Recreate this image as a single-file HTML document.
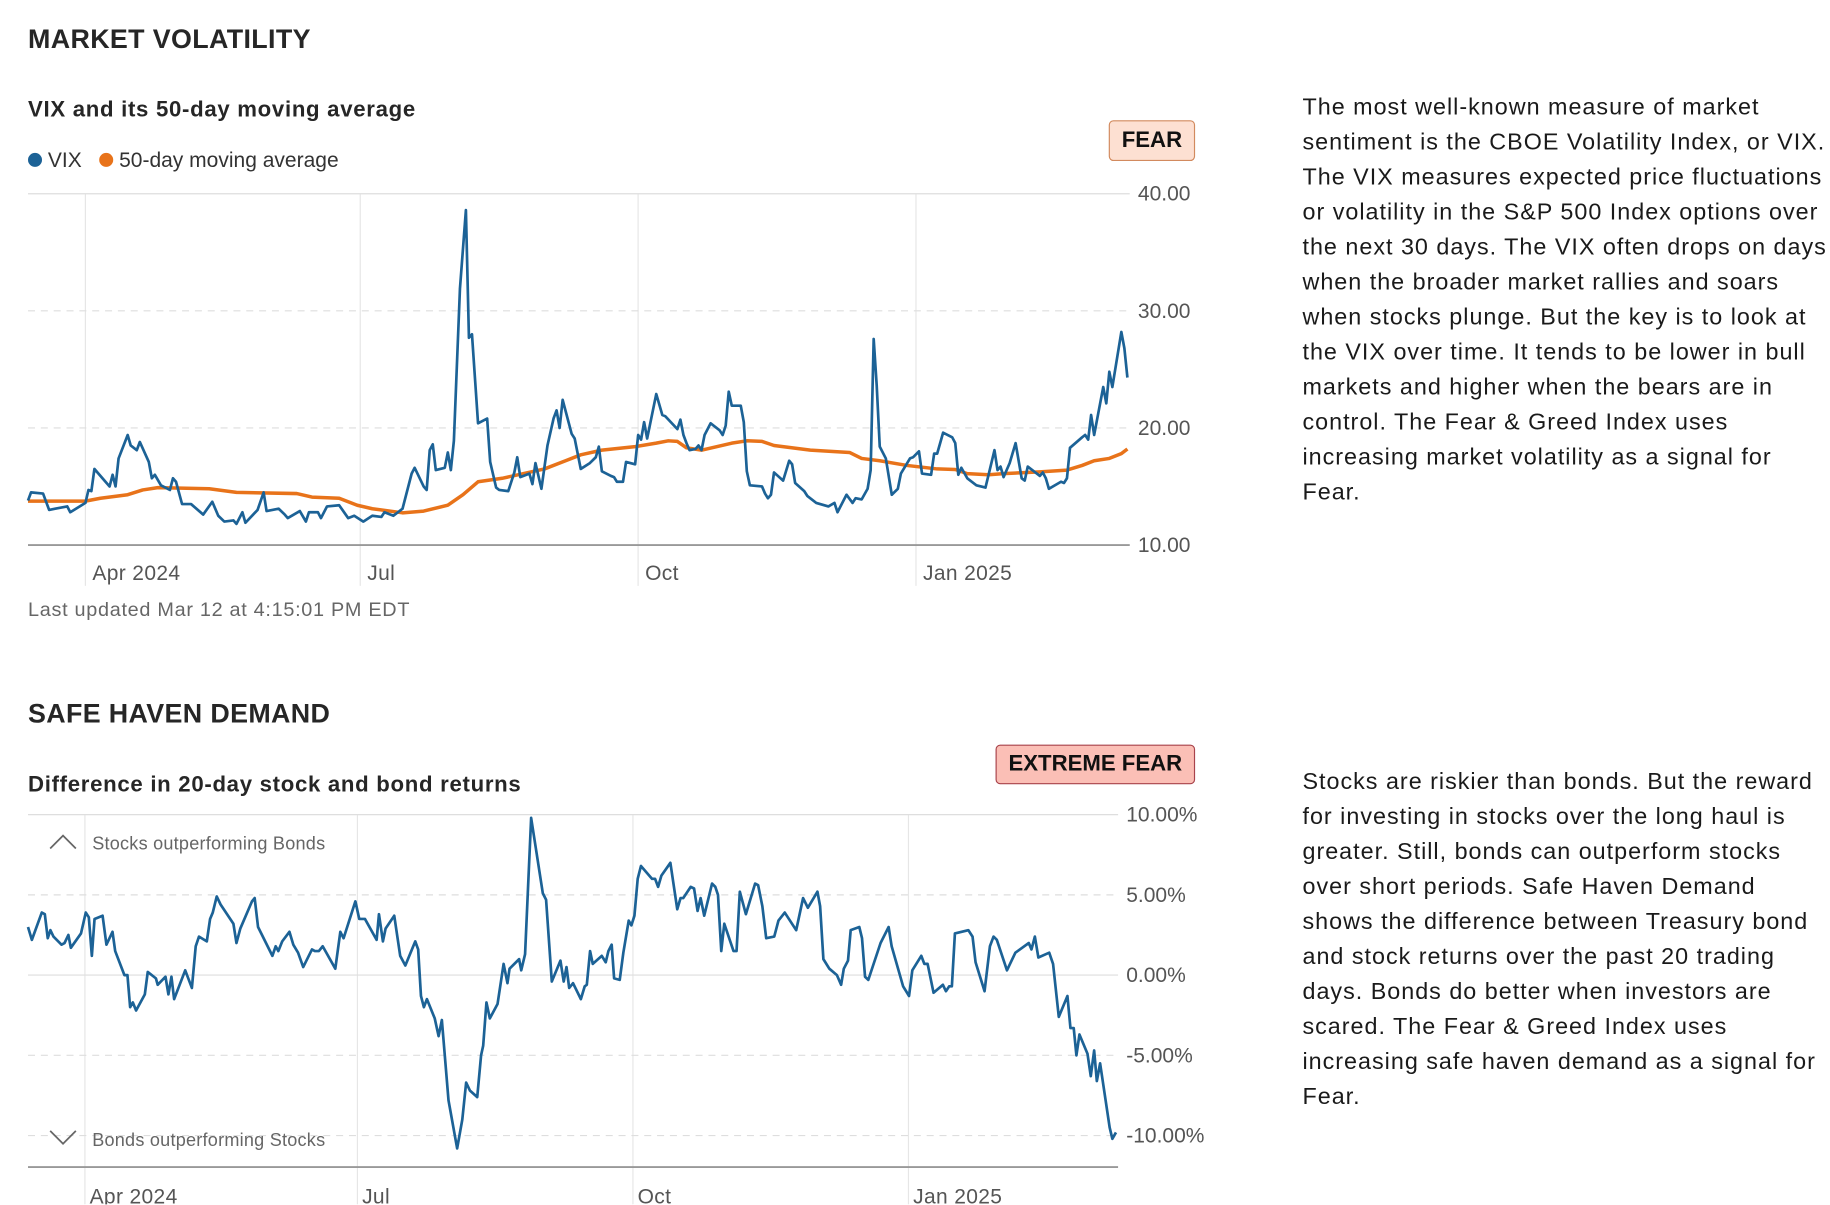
<!DOCTYPE html>
<html><head><meta charset="utf-8">
<style>
html,body{margin:0;padding:0;background:#fff;}
body{width:1830px;height:1205px;overflow:hidden;position:relative;}
#wrap{position:absolute;left:0;top:0;width:1568px;height:1032px;transform:scale(1.16709);transform-origin:0 0;font-family:"Liberation Sans",Arial,sans-serif;color:#222;}
.abs{position:absolute;white-space:nowrap;}
h2{margin:0;font-size:23px;font-weight:bold;color:#262626;letter-spacing:0.3px;}
.sub{font-size:19px;font-weight:bold;color:#262626;letter-spacing:0.6px;}
.badge{position:absolute;font-weight:bold;font-size:19px;color:#111;border-radius:4px;text-align:center;box-sizing:border-box;}
.desc{position:absolute;left:1116px;font-size:20px;line-height:30px;color:#1a1a1a;white-space:nowrap;letter-spacing:0.85px;}
svg text{font-family:"Liberation Sans",Arial,sans-serif;}
</style></head>
<body>
<div id="wrap">
  <h2 class="abs" style="left:24px;top:20px;">MARKET VOLATILITY</h2>
  <div class="abs sub" style="left:24px;top:84px;">VIX and its 50-day moving average</div>
  <div class="abs" style="left:24px;top:127px;font-size:18px;color:#333;">
    <span><span style="display:inline-block;width:12px;height:12px;border-radius:6px;background:#1c6296;vertical-align:0px;"></span> VIX</span>
    <span style="margin-left:10px;"><span style="display:inline-block;width:12px;height:12px;border-radius:6px;background:#e8731a;vertical-align:0px;"></span> 50-day moving average</span>
  </div>
  <div class="badge" style="left:950px;top:103px;width:74px;height:35px;line-height:33px;background:#fde0d2;border:1px solid #d28a5e;">FEAR</div>
  <svg id="c1" class="abs" style="left:0;top:150px;" width="1060" height="360"></svg>
  <div class="abs" style="left:24px;top:513px;font-size:17px;color:#666;letter-spacing:0.6px;">Last updated Mar 12 at 4:15:01 PM EDT</div>

  <div class="desc" style="top:77px;">The most well-known measure of market<br>sentiment is the CBOE Volatility Index, or VIX.<br>The VIX measures expected price fluctuations<br>or volatility in the S&amp;P 500 Index options over<br>the next 30 days. The VIX often drops on days<br>when the broader market rallies and soars<br>when stocks plunge. But the key is to look at<br>the VIX over time. It tends to be lower in bull<br>markets and higher when the bears are in<br>control. The Fear &amp; Greed Index uses<br>increasing market volatility as a signal for<br>Fear.</div>

  <h2 class="abs" style="left:24px;top:598px;">SAFE HAVEN DEMAND</h2>
  <div class="badge" style="left:853px;top:638px;width:171px;height:34px;line-height:32px;background:#fbbfb6;border:1px solid #a8434b;">EXTREME FEAR</div>
  <div class="abs sub" style="left:24px;top:662px;">Difference in 20-day stock and bond returns</div>
  <svg id="c2" class="abs" style="left:0;top:680px;" width="1060" height="352"></svg>

  <div class="desc" style="top:655px;">Stocks are riskier than bonds. But the reward<br>for investing in stocks over the long haul is<br>greater. Still, bonds can outperform stocks<br>over short periods. Safe Haven Demand<br>shows the difference between Treasury bond<br>and stock returns over the past 20 trading<br>days. Bonds do better when investors are<br>scared. The Fear &amp; Greed Index uses<br>increasing safe haven demand as a signal for<br>Fear.</div>
</div>
<script>
// ---- data (day offsets from 2024-03-13) ----
const monthLabels = ["Apr 2024","Jul","Oct","Jan 2025"];
const monthDays = [19,110,202,294];
const vixTicks = [10,20,30,40];
const vixTickLabels = ["10.00","20.00","30.00","40.00"];
const vixDays = [0,1,5,7,9,13,14,19,20,21,22,27,28,29,30,33,34,36,37,40,41,42,44,47,48,49,51,54,58,61,63,65,68,69,71,72,76,78,79,83,85,86,90,92,93,96,97,99,103,106,108,111,114,117,118,121,124,127,128,131,132,133,134,135,138,139,140,141,143,145,146,147,149,152,153,155,156,159,161,162,163,166,167,168,170,172,174,175,176,177,180,181,183,186,188,189,190,193,194,195,197,198,201,202,203,204,205,208,210,211,215,216,217,218,219,221,222,223,224,226,229,230,231,232,233,236,237,238,239,243,244,245,246,247,250,252,253,254,257,258,261,265,267,268,271,273,274,276,278,279,280,281,282,284,286,288,289,292,293,295,296,299,300,301,303,306,307,308,309,311,314,317,320,321,322,323,325,327,329,330,331,335,336,337,338,342,343,344,345,349,350,351,352,353,356,357,358,359,362,363,364];
const vixValues = [13.8,14.5,14.4,13.0,13.1,13.3,12.8,13.6,14.7,14.6,16.5,15.0,16.0,15.0,17.4,19.4,18.5,18.1,18.8,17.1,15.7,16.0,15.1,14.7,15.7,15.4,13.5,13.5,12.6,13.7,12.5,12.0,12.1,11.8,12.8,11.9,13.0,14.5,12.9,13.1,12.6,12.3,12.9,12.0,12.8,12.8,12.3,13.3,13.4,12.3,12.5,12.0,12.5,12.4,12.8,12.5,13.1,16.1,16.6,15.0,14.7,18.1,18.6,16.4,16.6,17.9,16.4,18.9,31.9,38.6,27.7,28.0,20.4,20.8,17.1,14.9,14.7,14.6,16.2,17.5,15.8,16.1,15.2,17.0,14.8,18.5,20.8,21.5,20.0,22.4,19.5,19.1,16.5,17.0,17.5,18.4,16.3,15.9,15.8,15.4,15.4,17.1,16.9,19.4,19.0,20.5,19.1,22.9,21.1,21.0,19.9,20.7,19.4,18.7,18.1,18.2,18.5,18.1,19.4,20.4,19.8,19.4,20.2,23.1,21.9,21.9,20.5,16.3,15.1,15.0,14.4,14.0,14.3,16.2,15.5,17.2,16.9,15.3,14.6,14.2,13.6,13.3,13.6,12.8,14.3,13.6,14.0,13.9,14.8,16.4,27.6,23.6,18.4,17.4,14.3,14.8,16.1,17.4,17.5,18.0,16.1,16.0,17.8,17.8,19.6,19.2,18.7,16.0,16.6,15.7,15.1,14.9,18.1,16.4,16.7,15.8,17.0,18.7,15.7,15.5,16.7,15.9,16.2,15.7,14.8,15.4,15.3,15.7,18.3,19.2,19.4,19.0,21.1,19.4,23.5,22.1,24.8,23.5,28.2,26.8,24.3];
const maDays = [0,19,24,33,38,43,60,69,89,94,103,109,114,124,131,139,144,149,157,171,178,183,190,201,208,212,215,218,223,233,238,243,247,259,272,276,282,291,301,307,311,318,323,335,344,349,353,358,362,364];
const maValues = [13.75,13.75,14.0,14.3,14.7,14.9,14.8,14.5,14.4,14.1,14.0,13.4,13.1,12.75,12.9,13.4,14.3,15.4,15.7,16.5,17.2,17.7,18.1,18.4,18.7,18.9,18.85,18.3,18.1,18.7,18.9,18.85,18.5,18.1,17.9,17.4,17.2,16.8,16.5,16.45,16.1,16.0,16.1,16.25,16.4,16.8,17.2,17.4,17.8,18.2];
const shTicks = [-10,-5,0,5,10];
const shTickLabels = ["-10.00%","-5.00%","0.00%","5.00%","10.00%"];
const shDays = [0,1.3,4.6,5.6,6.6,7.5,8.5,11.2,12.2,13.5,14.3,17.7,19.3,20.3,21.3,22.2,24.9,26.2,28.2,29.1,32.2,33.2,34.1,35.0,36.1,39.0,40.0,42.7,43.3,45.9,46.9,47.9,48.8,52.5,54.7,56.0,57.1,59.7,60.8,61.7,63.0,64.3,68.6,69.6,70.9,74.8,75.7,76.8,81.6,82.7,83.6,84.9,87.3,88.6,90.2,91.9,94.8,95.8,97.1,98.4,102.6,104.3,105.4,109.3,110.6,112.5,116.4,117.2,118.5,119.4,122.3,124.3,126.0,129.3,130.3,131.2,132.2,133.2,135.8,137.1,138.2,140.4,143.3,145.0,146.3,147.6,150.0,151.3,152.0,153.1,154.2,156.8,158.8,160.1,160.8,164.0,164.7,166.0,168.0,171.9,173.0,174.9,177.8,178.9,179.8,180.7,182.0,184.6,185.9,186.6,187.7,188.6,191.6,192.9,193.8,194.9,195.7,197.6,198.8,200.6,201.5,202.5,203.6,204.7,208.4,209.4,210.4,211.5,214.5,216.8,217.9,218.8,221.3,222.4,223.6,224.6,225.8,228.4,229.5,230.4,231.5,232.5,235.6,236.6,237.7,239.7,242.8,243.8,245.2,246.5,249.2,250.6,252.7,256.5,258.8,260.4,263.6,264.5,265.6,267.6,270.1,271.5,272.4,273.8,274.7,277.6,278.5,279.5,280.6,284.7,287.4,288.4,292.2,294.2,295.3,298.3,299.3,300.4,302.4,305.5,306.5,307.6,308.5,309.5,314.0,315.4,316.4,319.4,321.2,322.4,323.5,326.9,329.7,334.2,335.1,336.2,337.4,341.0,342.3,344.2,347.1,348.1,349.2,350.1,351.1,353.8,354.9,356.0,356.9,358.0,361.2,362.1,363.3];
const shValues = [3.0,2.2,3.9,3.8,2.3,2.8,2.4,1.9,2.0,2.5,1.7,2.6,3.9,3.6,1.2,3.5,3.7,1.9,2.7,1.5,0.0,0.0,-2.0,-1.7,-2.2,-1.2,0.2,-0.2,-0.6,-0.1,-1.2,-0.1,-1.5,0.3,-0.8,1.8,2.4,2.1,3.5,3.9,4.9,4.4,3.2,2.0,2.9,4.6,4.8,3.0,1.2,1.8,1.5,2.1,2.7,1.9,1.4,0.5,1.6,1.5,1.5,1.8,0.4,2.7,2.3,4.6,3.5,3.5,2.2,3.8,2.1,2.9,3.7,1.2,0.6,2.1,1.6,-1.3,-2.0,-1.5,-2.7,-3.8,-2.8,-7.8,-10.8,-9.0,-6.7,-7.2,-7.6,-5.0,-4.4,-1.7,-2.7,-1.8,0.7,-0.5,0.4,1.0,0.3,1.3,9.8,5.1,4.7,-0.4,0.9,-0.4,0.5,-0.8,-0.5,-1.5,-0.7,-0.6,1.5,0.7,1.2,0.8,1.5,1.9,-0.2,-0.3,1.4,3.4,3.1,3.7,6.0,6.8,6.0,6.0,5.5,6.2,7.0,4.1,4.8,4.8,5.5,5.4,4.0,4.8,3.7,5.7,5.5,5.0,1.5,3.2,1.5,1.5,5.2,3.8,5.7,5.6,4.3,2.3,2.4,3.4,3.9,2.8,4.8,4.2,5.2,4.3,1.0,0.4,0.0,-0.6,0.4,0.9,2.8,3.0,2.3,-0.1,-0.3,2.0,3.0,1.8,-0.7,-1.3,0.3,1.2,0.7,0.7,-1.1,-0.6,-1.0,-0.7,-0.7,2.6,2.8,2.4,0.8,-1.0,1.8,2.4,2.2,0.3,1.4,2.0,1.6,2.4,1.1,1.4,0.7,-2.6,-1.3,-3.3,-3.3,-5.0,-3.7,-4.9,-6.3,-4.7,-6.6,-5.5,-9.5,-10.2,-9.8];

const NS = "http://www.w3.org/2000/svg";
function mk(svg, tag, attrs, text){
  const e = document.createElementNS(NS, tag);
  for (const k in attrs) e.setAttribute(k, attrs[k]);
  if (text !== undefined) e.textContent = text;
  svg.appendChild(e);
  return e;
}
function linePath(days, vals, xs, ys){
  return days.map((d,i)=>(i?"L":"M")+xs(d).toFixed(1)+","+ys(vals[i]).toFixed(1)).join("");
}

// ---- chart 1 (svg offset top 150) ----
(function(){
  const svg = document.getElementById('c1');
  const off = 150;
  const x = d => 24 + d*(966-24)/364;
  const y = v => 467 - off - (v-10)*(467-166)/30;
  monthDays.forEach((d,i)=>{
    const g = mk(svg,'line',{x1:x(d),x2:x(d),y1:y(40),y2:352,stroke:'#e6e6e6','stroke-width':1});
    
    
    const t = mk(svg,'text',{x:x(d)+6,y:347,'font-size':18,fill:'#555','letter-spacing':0.3},monthLabels[i]);
    
    
  });
  vixTicks.forEach((v,i)=>{
    let attrs = {x1:24,x2:968,y1:y(v),y2:y(v),stroke:'#dedede','stroke-width':1};
    if (v===10){attrs.stroke='#999';attrs['stroke-width']=1.6;}
    else if (v!==40){attrs['stroke-dasharray']='6,5';}
    const l = mk(svg,'line',attrs);
    
    
    const t = mk(svg,'text',{x:975,y:y(v)+6,'font-size':18,fill:'#555'},vixTickLabels[i]);
    
    
  });
  const ma = mk(svg,'path',{d:linePath(maDays,maValues,x,y),fill:'none',stroke:'#e8731a','stroke-width':3,'stroke-linejoin':'round'});
  
  
  const vx = mk(svg,'path',{d:linePath(vixDays,vixValues,x,y),fill:'none',stroke:'#1c6296','stroke-width':2.3,'stroke-linejoin':'round'});
  
  
})();

// ---- chart 2 (svg offset top 680) ----
(function(){
  const svg = document.getElementById('c2');
  const off = 680;
  const x = d => 24 + d*(958-24)/364;
  const y = v => 835.5 - off - v*(973-698)/20;
  monthDays.forEach((d,i)=>{
    const g = mk(svg,'line',{x1:x(d),x2:x(d),y1:y(10),y2:352,stroke:'#e6e6e6','stroke-width':1});
    
    
    const t = mk(svg,'text',{x:x(d)+4,y:351,'font-size':18,fill:'#555','letter-spacing':0.3},monthLabels[i]);
    
    
  });
  shTicks.forEach((v,i)=>{
    let attrs = {x1:24,x2:958,y1:y(v),y2:y(v),stroke:'#dedede','stroke-width':1};
    if (v===5||v===-5||v===-10){attrs['stroke-dasharray']='6,5';}
    const l = mk(svg,'line',attrs);
    
    
    const t = mk(svg,'text',{x:965,y:y(v)+6,'font-size':18,fill:'#555'},shTickLabels[i]);
    
    
  });
  const base = mk(svg,'line',{x1:24,x2:958,y1:320,y2:320,stroke:'#999','stroke-width':1.6});
  
  
  const up = mk(svg,'polyline',{points:'43,47 54,36 65,47',fill:'none',stroke:'#666','stroke-width':1.5});
  
  
  const ut = mk(svg,'text',{x:79,y:48,'font-size':15.5,fill:'#666','letter-spacing':0.2},'Stocks outperforming Bonds');
  
  
  const dn = mk(svg,'polyline',{points:'43,289 54,300 65,289',fill:'none',stroke:'#666','stroke-width':1.5});
  
  
  const dt = mk(svg,'text',{x:79,y:302,'font-size':15.5,fill:'#666','letter-spacing':0.2},'Bonds outperforming Stocks');
  
  
  const sl = mk(svg,'path',{d:linePath(shDays,shValues,x,y),fill:'none',stroke:'#1c6296','stroke-width':2.3,'stroke-linejoin':'round'});
  
  
})();
</script>
</body></html>
